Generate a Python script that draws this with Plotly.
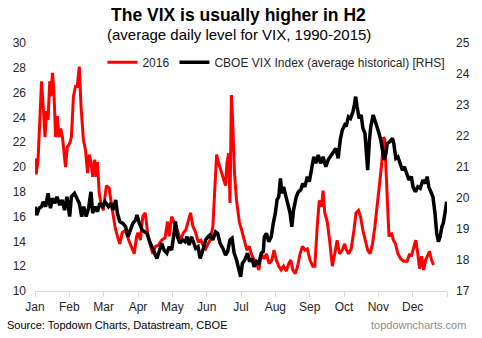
import plotly.graph_objects as go

# x positions are in months since 1 Jan (0 = start of Jan, 12 = end of Dec)
months = ["Jan", "Feb", "Mar", "Apr", "May", "Jun", "Jul", "Aug", "Sep", "Oct", "Nov", "Dec"]

vix2016_x = [0.00, 0.03, 0.09, 0.19, 0.24, 0.29, 0.34, 0.38, 0.43, 0.46, 0.51, 0.55, 0.60, 0.65, 0.70,
             0.75, 0.80, 0.84, 0.89, 0.94, 1.01, 1.06, 1.12, 1.18, 1.23, 1.29, 1.34, 1.41, 1.47, 1.53,
             1.58, 1.63, 1.68, 1.74, 1.78, 1.82, 1.87, 1.92, 1.99, 2.08, 2.16, 2.21, 2.25, 2.33, 2.40,
             2.47, 2.54, 2.64, 2.73, 2.81, 2.89, 2.96, 3.00, 3.07, 3.14, 3.21, 3.28, 3.36, 3.43, 3.51,
             3.60, 3.69, 3.79, 3.86, 3.91, 3.98, 4.05, 4.11, 4.17, 4.24, 4.32, 4.39, 4.46, 4.53, 4.60,
             4.67, 4.75, 4.83, 4.89, 4.97, 5.04, 5.10, 5.18, 5.25, 5.29, 5.35, 5.42, 5.49, 5.55, 5.59,
             5.64, 5.68, 5.72, 5.76, 5.81, 5.87, 5.95, 6.02, 6.11, 6.17, 6.24, 6.30, 6.38, 6.45, 6.52,
             6.59, 6.67, 6.74, 6.82, 6.90, 6.96, 7.03, 7.10, 7.17, 7.24, 7.32, 7.39, 7.45, 7.51, 7.58,
             7.65, 7.72, 7.79, 7.86, 7.93, 8.01, 8.09, 8.15, 8.22, 8.28, 8.35, 8.39, 8.44, 8.51, 8.58,
             8.66, 8.73, 8.80, 8.87, 8.95, 9.02, 9.06, 9.13, 9.21, 9.29, 9.35, 9.42, 9.48, 9.55, 9.61,
             9.69, 9.76, 9.83, 9.90, 9.98, 10.05, 10.10, 10.15, 10.19, 10.22, 10.26, 10.31, 10.38, 10.44, 10.50,
             10.57, 10.65, 10.74, 10.84, 10.91, 10.96, 11.03, 11.09, 11.15, 11.20, 11.26, 11.32, 11.38, 11.43, 11.49,
             11.55, 11.61]
vix2016_y = [20.7, 19.4, 20.6, 26.9, 24.9, 22.4, 24.5, 23.8, 26.9, 25.7, 27.6, 26.2, 22.4, 24.1, 22.4,
             23.1, 22.4, 21.1, 20.0, 21.6, 21.9, 22.4, 25.7, 26.5, 26.5, 28.1, 24.9, 22.2, 21.4, 19.5,
             21.0, 20.4, 19.2, 20.6, 19.2, 20.4, 17.9, 17.1, 16.5, 18.5, 18.3, 17.3, 16.5, 15.2, 14.4,
             13.8, 14.7, 14.9, 14.1, 13.6, 13.0, 14.4, 14.7, 14.1, 16.0, 16.3, 14.7, 13.7, 13.0, 13.6,
             13.7, 14.1, 14.3, 15.6, 14.4, 16.0, 15.6, 15.2, 14.7, 14.1, 14.7, 14.9, 15.6, 16.3, 15.2,
             14.8, 14.0, 14.1, 13.7, 13.4, 13.8, 14.1, 15.2, 19.5, 21.0, 20.3, 19.6, 19.1, 18.5, 20.3,
             21.1, 17.1, 25.8, 23.5, 19.5, 17.3, 15.6, 14.9, 13.8, 13.3, 13.6, 13.0, 12.5, 12.2, 11.7,
             13.0, 12.6, 13.0, 12.2, 12.5, 13.3, 12.5, 12.0, 11.7, 12.0, 11.6, 12.2, 12.5, 11.7, 11.4,
             12.0, 13.0, 13.6, 13.3, 13.4, 12.5, 12.0, 12.0, 15.2, 17.3, 16.8, 18.1, 16.3, 15.6, 14.1,
             12.0, 13.0, 14.1, 13.0, 13.3, 13.8, 13.4, 13.0, 13.4, 14.9, 16.3, 16.5, 16.0, 14.9, 14.1,
             13.3, 13.0, 13.8, 15.2, 17.1, 19.0, 20.3, 22.4, 22.2, 20.0, 17.3, 14.4, 14.7, 14.1, 13.8,
             13.0, 12.6, 12.4, 12.4, 13.0, 12.8, 13.6, 14.1, 13.0, 11.8, 12.8, 11.7, 12.5, 12.8, 13.2,
             12.5, 12.1]

hist_x = [0.00, 0.05, 0.12, 0.19, 0.24, 0.31, 0.38, 0.45, 0.51, 0.58, 0.64, 0.72, 0.79, 0.86, 0.93,
          1.01, 1.06, 1.15, 1.22, 1.29, 1.36, 1.42, 1.49, 1.56, 1.63, 1.68, 1.75, 1.82, 1.89, 1.97,
          2.04, 2.14, 2.21, 2.27, 2.35, 2.40, 2.47, 2.56, 2.64, 2.71, 2.78, 2.85, 2.93, 2.97, 3.04,
          3.12, 3.19, 3.26, 3.34, 3.40, 3.47, 3.55, 3.63, 3.69, 3.76, 3.84, 3.91, 3.98, 4.05, 4.09,
          4.15, 4.22, 4.30, 4.37, 4.43, 4.49, 4.56, 4.62, 4.68, 4.75, 4.81, 4.89, 4.97, 5.04, 5.10,
          5.18, 5.26, 5.32, 5.39, 5.47, 5.55, 5.61, 5.68, 5.74, 5.80, 5.87, 5.93, 5.99, 6.04, 6.11,
          6.19, 6.25, 6.32, 6.38, 6.45, 6.52, 6.59, 6.65, 6.68, 6.74, 6.81, 6.88, 6.94, 7.00, 7.05,
          7.10, 7.15, 7.19, 7.24, 7.31, 7.39, 7.43, 7.48, 7.53, 7.61, 7.67, 7.74, 7.80, 7.86, 7.93,
          7.99, 8.06, 8.12, 8.18, 8.25, 8.32, 8.39, 8.47, 8.54, 8.60, 8.68, 8.76, 8.83, 8.89, 8.95,
          9.02, 9.06, 9.13, 9.19, 9.26, 9.30, 9.34, 9.38, 9.44, 9.50, 9.55, 9.61, 9.65, 9.69, 9.74,
          9.78, 9.85, 9.90, 9.96, 10.02, 10.07, 10.12, 10.17, 10.22, 10.26, 10.34, 10.41, 10.45, 10.51, 10.57,
          10.63, 10.70, 10.76, 10.82, 10.89, 10.96, 11.01, 11.08, 11.15, 11.22, 11.30, 11.37, 11.42, 11.47, 11.53,
          11.59, 11.65, 11.70, 11.75, 11.80, 11.85, 11.89, 11.94, 11.99]
hist_y = [19.72, 19.45, 19.67, 19.72, 19.88, 19.72, 20.15, 19.67, 19.99, 19.83, 20.04, 19.77, 19.94, 19.61, 20.04,
          19.40, 20.04, 20.15, 19.99, 19.83, 19.40, 19.72, 19.40, 19.67, 20.20, 19.51, 19.72, 19.56, 19.83, 19.72,
          19.88, 19.72, 19.83, 19.61, 19.94, 19.51, 19.24, 19.18, 19.07, 18.75, 18.97, 19.18, 19.29, 19.45, 19.18,
          18.97, 18.91, 18.86, 18.59, 18.43, 18.22, 18.05, 18.32, 18.54, 18.32, 18.22, 18.43, 18.32, 18.86, 19.24,
          18.75, 18.54, 18.65, 18.59, 18.75, 18.48, 18.75, 18.54, 18.38, 18.43, 18.05, 18.32, 18.65, 18.75, 18.81,
          18.65, 18.91, 18.86, 18.54, 18.38, 18.16, 18.27, 18.65, 18.70, 18.22, 18.00, 17.68, 17.46, 17.89, 18.00,
          18.22, 17.95, 18.05, 17.78, 17.95, 17.89, 18.22, 18.27, 18.75, 18.86, 18.59, 18.75, 19.18, 19.51, 19.94,
          20.04, 20.63, 20.15, 20.36, 20.04, 19.72, 19.51, 19.07, 19.61, 20.04, 20.20, 20.26, 20.47, 20.36, 20.69,
          20.53, 21.01, 21.33, 21.12, 21.39, 21.12, 21.33, 21.01, 21.23, 21.33, 21.49, 21.60, 21.28, 21.87, 22.19,
          22.35, 22.30, 22.62, 22.57, 22.78, 23.00, 23.27, 22.95, 22.57, 22.68, 22.25, 22.09, 21.55, 20.90, 21.87,
          22.30, 22.68, 22.52, 22.25, 22.09, 21.87, 21.55, 21.23, 21.44, 21.76, 21.82, 21.93, 21.76, 21.28, 21.33,
          21.12, 20.90, 21.01, 20.80, 20.58, 20.69, 20.36, 20.20, 20.36, 20.31, 20.58, 20.47, 20.69, 20.36, 20.20,
          20.04, 19.51, 18.86, 18.59, 18.75, 19.07, 19.18, 19.51, 19.88]

left_ticks = [10, 12, 14, 16, 18, 20, 22, 24, 26, 28, 30]
right_ticks = [17, 18, 19, 20, 21, 22, 23, 24, 25]

FONT = "Arial, Liberation Sans, sans-serif"

fig = go.Figure()
fig.add_trace(go.Scatter(x=vix2016_x, y=vix2016_y, mode="lines", name="2016",
                         line=dict(color="#FF0000", width=3)))
fig.add_trace(go.Scatter(x=hist_x, y=hist_y, mode="lines",
                         name="CBOE VIX Index (average historical) [RHS]",
                         line=dict(color="#000000", width=3.5), yaxis="y2"))

fig.update_layout(
    width=482, height=338,
    margin=dict(l=35, r=30, t=43, b=47),
    paper_bgcolor="white", plot_bgcolor="white",
    font=dict(family=FONT, size=12, color="#262626"),
    showlegend=True,
    legend=dict(orientation="h", x=0.586, xanchor="center", y=0.922, yanchor="middle",
                font=dict(size=12, color="#262626"), itemwidth=30,
                bgcolor="rgba(0,0,0,0)", traceorder="normal"),
    xaxis=dict(range=[0, 12], tickmode="array", tickvals=list(range(13)),
               ticktext=months + [""], showgrid=False, zeroline=False,
               showline=True, linecolor="#d9d9d9", linewidth=1,
               ticks="outside", ticklen=5, tickcolor="#d9d9d9",
               tickfont=dict(size=12, color="#262626")),
    yaxis=dict(range=[10, 30], tickvals=left_ticks, showgrid=False, zeroline=False,
               showline=False, ticks="", ticklabelstandoff=8,
               tickfont=dict(size=12, color="#262626")),
    yaxis2=dict(range=[17, 25], tickvals=right_ticks, overlaying="y", side="right",
                showgrid=False, zeroline=False, showline=False, ticks="",
                ticklabelstandoff=8, tickfont=dict(size=12, color="#262626")),
    annotations=[
        dict(text="<b>The VIX is usually higher in H2</b>", xref="paper", yref="paper",
             x=0.494, y=1.113, xanchor="center", yanchor="middle", showarrow=False,
             font=dict(size=17.5, color="#000000", family=FONT)),
        dict(text="(average daily level for VIX, 1990-2015)", xref="paper", yref="paper",
             x=0.494, y=1.036, xanchor="center", yanchor="middle", showarrow=False,
             font=dict(size=15, color="#000000", family=FONT)),
        dict(text="Source: Topdown Charts, Datastream, CBOE", xref="paper", yref="paper",
             x=-0.072, y=-0.137, xanchor="left", yanchor="middle", showarrow=False,
             font=dict(size=11, color="#000000", family=FONT)),
        dict(text="topdowncharts.com", xref="paper", yref="paper",
             x=1.050, y=-0.137, xanchor="right", yanchor="middle", showarrow=False,
             font=dict(size=11, color="#8c8c8c", family=FONT)),
    ],
)

fig.write_html("out.html")
